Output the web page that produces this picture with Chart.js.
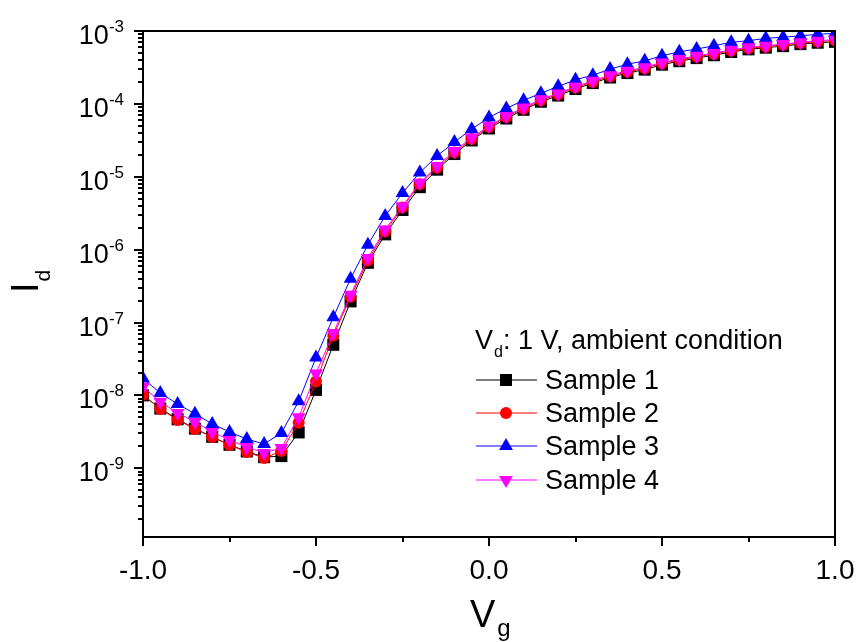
<!DOCTYPE html>
<html>
<head>
<meta charset="utf-8">
<script src="https://cdn.jsdelivr.net/npm/chart.js@4.4.0/dist/chart.umd.min.js"></script>
<style>
  html, body { margin: 0; padding: 0; background: #fff; }
  canvas { display: block; }
</style>
</head>
<body>
<canvas id="idvgChart" width="859" height="642"></canvas>
<script>
// gate voltage (V)
const vg = [-1.0, -0.95, -0.9, -0.85, -0.8, -0.75, -0.7, -0.65, -0.6, -0.55,
    -0.5, -0.45, -0.4, -0.35, -0.3, -0.25, -0.2, -0.15, -0.1, -0.05,
    0.0, 0.05, 0.1, 0.15, 0.2, 0.25, 0.3, 0.35, 0.4, 0.45,
    0.5, 0.55, 0.6, 0.65, 0.7, 0.75, 0.8, 0.85, 0.9, 0.95, 1.0];

// drain current (A)
const sample1 = [1.0e-8, 6.6e-9, 4.7e-9, 3.5e-9, 2.7e-9, 2.1e-9, 1.7e-9, 1.42e-9, 1.47e-9, 3.1e-9,
    1.19e-8, 4.95e-8, 1.95e-7, 6.6e-7, 1.62e-6, 3.5e-6, 7.2e-6, 1.25e-5, 2.05e-5, 3.15e-5,
    4.6e-5, 6.3e-5, 8.3e-5, 1.07e-4, 1.3e-4, 1.6e-4, 1.93e-4, 2.3e-4, 2.65e-4, 2.95e-4,
    3.45e-4, 3.85e-4, 4.25e-4, 4.65e-4, 5.15e-4, 5.6e-4, 5.9e-4, 6.2e-4, 6.6e-4, 6.9e-4, 7.1e-4];
const sample2 = [1.02e-8, 6.5e-9, 4.6e-9, 3.46e-9, 2.69e-9, 2.09e-9, 1.67e-9, 1.38e-9, 1.72e-9, 4.2e-9,
    1.55e-8, 6.6e-8, 2.25e-7, 7.1e-7, 1.78e-6, 3.8e-6, 7.9e-6, 1.33e-5, 2.16e-5, 3.3e-5,
    4.8e-5, 6.6e-5, 8.6e-5, 1.12e-4, 1.35e-4, 1.68e-4, 2.0e-4, 2.4e-4, 2.75e-4, 3.08e-4,
    3.6e-4, 4.0e-4, 4.42e-4, 4.85e-4, 5.35e-4, 5.8e-4, 6.1e-4, 6.45e-4, 6.85e-4, 7.15e-4, 7.4e-4];
const sample3 = [1.7e-8, 1.08e-8, 7.6e-9, 5.6e-9, 4.06e-9, 3.15e-9, 2.52e-9, 2.15e-9, 3.05e-9, 8.3e-9,
    3.3e-8, 1.18e-7, 4.0e-7, 1.17e-6, 2.9e-6, 6.0e-6, 1.14e-5, 1.93e-5, 3.0e-5, 4.5e-5,
    6.5e-5, 8.65e-5, 1.12e-4, 1.4e-4, 1.74e-4, 2.14e-4, 2.48e-4, 3.0e-4, 3.5e-4, 3.9e-4,
    4.57e-4, 5.19e-4, 5.65e-4, 6.28e-4, 7.0e-4, 7.36e-4, 7.94e-4, 8.2e-4, 8.6e-4, 9.0e-4, 9.3e-4];
const sample4 = [1.31e-8, 8.15e-9, 5.75e-9, 4.32e-9, 3.15e-9, 2.44e-9, 1.96e-9, 1.62e-9, 1.9e-9, 5.0e-9,
    2.0e-8, 7.2e-8, 2.4e-7, 7.7e-7, 1.89e-6, 3.95e-6, 8.3e-6, 1.4e-5, 2.26e-5, 3.45e-5,
    4.98e-5, 6.84e-5, 8.9e-5, 1.16e-4, 1.39e-4, 1.73e-4, 2.07e-4, 2.48e-4, 2.84e-4, 3.17e-4,
    3.71e-4, 4.12e-4, 4.57e-4, 4.98e-4, 5.53e-4, 5.97e-4, 6.28e-4, 6.62e-4, 7.0e-4, 7.36e-4, 7.6e-4];

const sampleNames = ['Sample 1', 'Sample 2', 'Sample 3', 'Sample 4'];
const xMajorTicks = [-1.0, -0.5, 0.0, 0.5, 1.0];
const xMinorTicks = [-0.75, -0.25, 0.25, 0.75];
const yExponents = [-9, -8, -7, -6, -5, -4, -3];

const FONT = '"Liberation Sans", Arial, sans-serif';

function pts(ys) {
    return vg.map((v, i) => ({ x: v, y: ys[i] }));
}

const styles = [
    { color: '#000000', shape: 'rect', radius: 8.5, rotation: 0 },
    { color: '#ff0000', shape: 'circle', radius: 6, rotation: 0 },
    { color: '#0000ff', shape: 'triangle', radius: 8, rotation: 0 },
    { color: '#ff00ff', shape: 'triangle', radius: 8, rotation: 180 }
];
const allSeries = [sample1, sample2, sample3, sample4];

const datasets = allSeries.map((s, i) => ({
    label: sampleNames[i],
    data: pts(s),
    showLine: true,
    borderColor: styles[i].color,
    backgroundColor: styles[i].color,
    borderWidth: 1,
    pointStyle: styles[i].shape,
    pointRadius: styles[i].radius,
    pointRotation: styles[i].rotation,
    pointBorderWidth: 0,
    pointBackgroundColor: styles[i].color,
    order: 4 - i
}));

function drawMarker(ctx, st, x, y) {
    ctx.fillStyle = st.color;
    ctx.beginPath();
    const r = st.radius;
    if (st.shape === 'rect') {
        const h = r * Math.SQRT1_2;
        ctx.rect(x - h, y - h, 2 * h, 2 * h);
    } else if (st.shape === 'circle') {
        ctx.arc(x, y, r, 0, Math.PI * 2);
    } else {
        const s = st.rotation ? -1 : 1;
        ctx.moveTo(x, y - s * r);
        ctx.lineTo(x + r * 0.866, y + s * r * 0.5);
        ctx.lineTo(x - r * 0.866, y + s * r * 0.5);
        ctx.closePath();
    }
    ctx.fill();
}

const decorations = {
    id: 'decorations',
    afterDraw(chart) {
        const { ctx, chartArea: a, scales: { x, y } } = chart;
        ctx.save();
        ctx.strokeStyle = '#000';
        ctx.lineWidth = 2;
        ctx.strokeRect(a.left, a.top, a.right - a.left, a.bottom - a.top);

        // tick marks, outward
        ctx.beginPath();
        xMajorTicks.forEach(v => {
            const px = Math.round(x.getPixelForValue(v));
            ctx.moveTo(px, a.bottom); ctx.lineTo(px, a.bottom + 9);
        });
        xMinorTicks.forEach(v => {
            const px = Math.round(x.getPixelForValue(v));
            ctx.moveTo(px, a.bottom); ctx.lineTo(px, a.bottom + 5);
        });
        for (let e = -10; e <= -3; e++) {
            for (let m = 1; m <= 9; m++) {
                const v = m * Math.pow(10, e);
                if (v < y.min * 0.999 || v > y.max * 1.001) continue;
                const py = Math.round(y.getPixelForValue(v));
                ctx.moveTo(a.left, py); ctx.lineTo(a.left - (m === 1 ? 9 : 5), py);
            }
        }
        ctx.stroke();

        // x tick labels
        ctx.fillStyle = '#000';
        ctx.textBaseline = 'alphabetic';
        ctx.textAlign = 'center';
        ctx.font = '28px ' + FONT;
        xMajorTicks.forEach(v => {
            ctx.fillText(v.toFixed(1), x.getPixelForValue(v), 579);
        });

        // y tick labels 10^n
        ctx.textAlign = 'right';
        yExponents.forEach(e => {
            const py = y.getPixelForValue(Math.pow(10, e));
            const ex = String(e);
            ctx.font = '17px ' + FONT;
            const w = ctx.measureText(ex).width;
            ctx.fillText(ex, 124, py + 1);
            ctx.font = '27px ' + FONT;
            ctx.fillText('10', 124 - w, py + 13);
        });

        // axis titles
        ctx.textAlign = 'left';
        ctx.save();
        ctx.translate(38, 293);
        ctx.rotate(-Math.PI / 2);
        ctx.font = '38px ' + FONT;
        ctx.fillText('I', 0, 0);
        const iw = ctx.measureText('I').width;
        ctx.font = '21px ' + FONT;
        ctx.fillText('d', iw + 1, 12);
        ctx.restore();

        ctx.font = '38px ' + FONT;
        ctx.fillText('V', 470, 627);
        const vw = ctx.measureText('V').width;
        ctx.font = '24px ' + FONT;
        ctx.fillText('g', 470 + vw + 2, 636);

        // legend
        ctx.font = '27px ' + FONT;
        ctx.fillText('V', 475, 349);
        const lw = ctx.measureText('V').width;
        ctx.font = '16px ' + FONT;
        ctx.fillText('d', 475 + lw + 1, 357);
        ctx.font = '27px ' + FONT;
        ctx.fillText(': 1 V, ambient condition', 475 + lw + 10, 349);

        const rows = [389, 422, 455, 489];
        styles.forEach((st, i) => {
            const cy = rows[i] - 9;
            ctx.strokeStyle = st.color;
            ctx.lineWidth = 1;
            ctx.beginPath();
            ctx.moveTo(476, cy); ctx.lineTo(537, cy);
            ctx.stroke();
            drawMarker(ctx, st, 506, cy);
            ctx.fillStyle = '#000';
            ctx.font = '27px ' + FONT;
            ctx.fillText(sampleNames[i], 545, rows[i]);
        });
        ctx.restore();
    }
};

new Chart(document.getElementById('idvgChart'), {
    type: 'scatter',
    data: { datasets: datasets },
    options: {
        responsive: false,
        animation: false,
        devicePixelRatio: 1,
        layout: { padding: { top: 31, right: 24, left: 0, bottom: 0 } },
        plugins: {
            legend: { display: false },
            tooltip: { enabled: false }
        },
        scales: {
            x: {
                type: 'linear',
                min: -1,
                max: 1,
                grid: { display: false },
                border: { display: false },
                ticks: { display: false, stepSize: 0.5 },
                afterFit: s => { s.height = 105; }
            },
            y: {
                type: 'logarithmic',
                min: 1.14e-10,
                max: 1e-3,
                grid: { display: false },
                border: { display: false },
                ticks: { display: false },
                afterFit: s => { s.width = 143; }
            }
        }
    },
    plugins: [decorations]
});
</script>
</body>
</html>
